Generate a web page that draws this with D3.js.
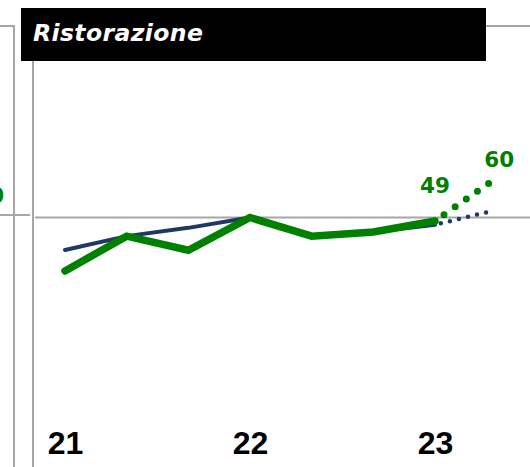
<!DOCTYPE html>
<html>
<head>
<meta charset="utf-8">
<script src="https://cdn.jsdelivr.net/npm/d3@7"></script>
<style>
  html, body { margin: 0; padding: 0; background: #fff; }
  svg { display: block; }
</style>
</head>
<body>
<svg id="chart"></svg>
<script>
var width = 530;
var height = 467;

// periods (3 per year), tick labels at the first period of each year
var periods = [0, 1, 2, 3, 4, 5, 6];
var tickPos = [0, 3, 6];
var tickLabels = ["21", "22", "23"];

// series values
var actual = [34.5, 44.6, 40.5, 50, 44.6, 45.8, 49];
var trend = [40.6, 44.6, 47, 50, 44.6, 45.8, 47.9];

// projections (dotted)
var projX = [6, 6.88];
var actualProj = [49, 60];
var trendProj = [47.9, 51.7];

var refValue = 50;
var title = "Ristorazione";

var green = "#008000";
var navy = "#1f3864";
var gray = "#a6a6a6";

var svg = d3.select("#chart")
    .attr("width", width)
    .attr("height", height);

var x = d3.scaleLinear().domain([0, 6]).range([65, 435]);
var y = d3.scaleLinear().domain([30, 65]).range([286.5, 165.75]);

// frame lines (bits of the neighbouring panel on the left)
svg.append("path")
    .attr("d", "M0,26H14V" + height)
    .attr("fill", "none").attr("stroke", gray).attr("stroke-width", 2);
svg.append("line")
    .attr("x1", 0).attr("x2", 30).attr("y1", 215).attr("y2", 215)
    .attr("stroke", gray).attr("stroke-width", 2);
// label of the previous panel, cut by the edge as in the original
svg.append("text")
    .attr("x", 4).attr("y", 203)
    .attr("text-anchor", "end")
    .attr("font-family", "DejaVu Sans, sans-serif")
    .attr("font-weight", "bold").attr("font-size", 21)
    .attr("fill", green)
    .text("50");

// this panel's frame
svg.append("line")
    .attr("x1", 33).attr("x2", 33).attr("y1", 61).attr("y2", height)
    .attr("stroke", gray).attr("stroke-width", 2);
svg.append("line")
    .attr("x1", 486).attr("x2", width).attr("y1", 26).attr("y2", 26)
    .attr("stroke", gray).attr("stroke-width", 2);

// reference line
svg.append("line")
    .attr("x1", 35).attr("x2", width)
    .attr("y1", y(refValue)).attr("y2", y(refValue))
    .attr("stroke", gray).attr("stroke-width", 2);

// title box
svg.append("rect")
    .attr("x", 21).attr("y", 8).attr("width", 465).attr("height", 53)
    .attr("fill", "#000");
svg.append("text")
    .attr("x", 33).attr("y", 41)
    .attr("font-family", "DejaVu Sans, sans-serif")
    .attr("font-weight", "bold").attr("font-style", "italic")
    .attr("font-size", 23.5)
    .attr("letter-spacing", 0.4)
    .attr("fill", "#fff")
    .text(title);

var line = d3.line()
    .x(function(d) { return x(d[0]); })
    .y(function(d) { return y(d[1]); });

// trend (navy)
svg.append("path")
    .datum(periods.map(function(p, i) { return [p, trend[i]]; }))
    .attr("d", line)
    .attr("fill", "none").attr("stroke", navy)
    .attr("stroke-width", 4).attr("stroke-linecap", "round").attr("stroke-linejoin", "round");
svg.append("path")
    .datum(projX.map(function(p, i) { return [p, trendProj[i]]; }))
    .attr("d", line)
    .attr("fill", "none").attr("stroke", navy)
    .attr("stroke-width", 4.5).attr("stroke-linecap", "round")
    .attr("stroke-dasharray", "0 9.3").attr("stroke-dashoffset", 3.3);

// actual (green)
svg.append("path")
    .datum(periods.map(function(p, i) { return [p, actual[i]]; }))
    .attr("d", line)
    .attr("fill", "none").attr("stroke", green)
    .attr("stroke-width", 7.5).attr("stroke-linecap", "round").attr("stroke-linejoin", "miter");
svg.append("path")
    .datum(projX.map(function(p, i) { return [p, actualProj[i]]; }))
    .attr("d", line)
    .attr("fill", "none").attr("stroke", green)
    .attr("stroke-width", 7).attr("stroke-linecap", "round")
    .attr("stroke-dasharray", "0 13.6").attr("stroke-dashoffset", 2.6);

// value labels
var labels = [
    { px: 6, v: actual[6], dx: 0, dy: -28 },
    { px: projX[1], v: actualProj[1], dx: 10, dy: -16 }
];
svg.selectAll(".vlabel")
    .data(labels)
    .enter()
    .append("text")
        .attr("class", "vlabel")
        .attr("x", function(d) { return x(d.px) + d.dx; })
        .attr("y", function(d) { return y(d.v) + d.dy; })
        .attr("text-anchor", "middle")
        .attr("font-family", "DejaVu Sans, sans-serif")
        .attr("font-weight", "bold").attr("font-size", 21.5)
        .attr("fill", green)
        .text(function(d) { return d.v; });

// x axis labels
var xAxis = d3.axisBottom(x)
    .tickValues(tickPos)
    .tickFormat(function(d, i) { return tickLabels[i]; })
    .tickSize(0).tickPadding(0);
var gx = svg.append("g")
    .attr("transform", "translate(0,431)")
    .call(xAxis);
gx.select(".domain").remove();
gx.selectAll("text")
    .attr("dy", "0.71em")
    .attr("font-family", "Liberation Sans, Arial, sans-serif")
    .attr("font-weight", "bold").attr("font-size", 32)
    .attr("fill", "#000");
</script>
</body>
</html>
